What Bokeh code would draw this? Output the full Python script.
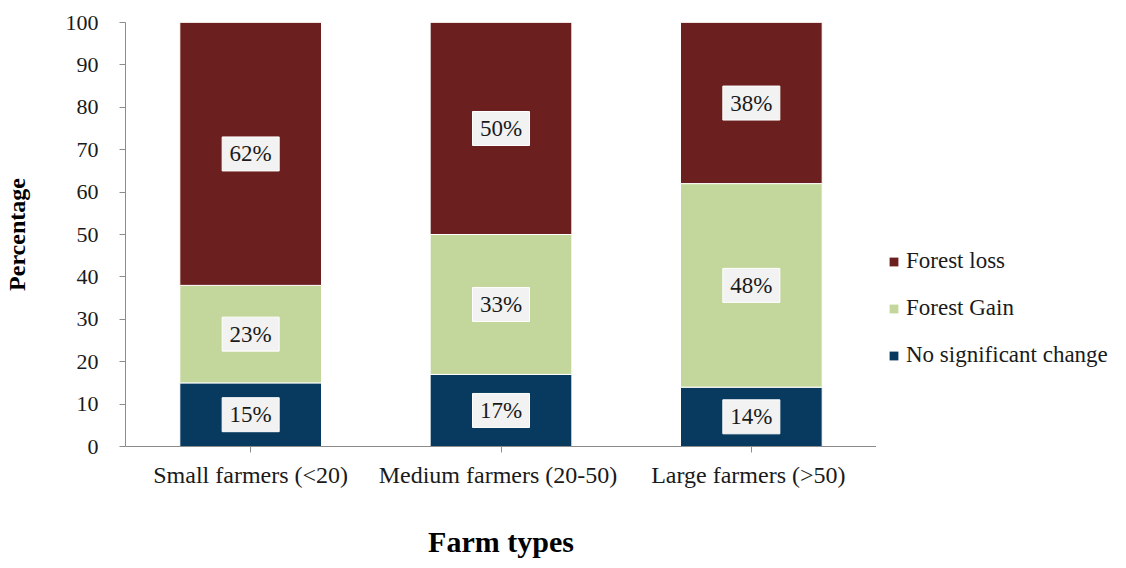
from bokeh.plotting import figure
from bokeh.models import ColumnDataSource, Legend, LegendItem, FactorRange, Range1d, FixedTicker
from bokeh.core.properties import value
from bokeh.layouts import row
from bokeh.embed import file_html
from bokeh.resources import INLINE

categories = ["Small farmers (<20)", "Medium farmers  (20-50)", "Large farmers  (>50)"]
no_change = [15, 17, 14]
forest_gain = [23, 33, 48]
forest_loss = [62, 50, 38]
series = ["No significant change", "Forest Gain", "Forest loss"]
colors = ["#073a5e", "#c3d69b", "#6b1f1f"]
y_ticks = list(range(0, 101, 10))

FONT = "Liberation Serif"
AXIS_COLOR = "#8c8c8c"
H = 560

data = {"cat": categories, series[0]: no_change, series[1]: forest_gain, series[2]: forest_loss}
src = ColumnDataSource(data)

p = figure(x_range=FactorRange(factors=categories, range_padding=0),
           y_range=Range1d(0, 100),
           width=876, height=H, output_backend="svg", toolbar_location=None,
           min_border_left=123, min_border_right=0, min_border_top=22, min_border_bottom=111)

renderers = p.vbar_stack(series, x="cat", width=0.566, color=colors, source=src,
                         line_color="white", line_width=1)

# labels
lab_x, lab_y, lab_t = [], [], []
for i, c in enumerate(categories):
    base = 0
    for vals in (no_change, forest_gain, forest_loss):
        v = vals[i]
        lab_x.append(c)
        lab_y.append(base + v / 2)
        lab_t.append(f"{v}%")
        base += v
lsrc = ColumnDataSource(dict(x=lab_x, y=lab_y, t=lab_t))
p.rect(x="x", y="y", width=57, height=34, width_units="screen", height_units="screen",
       fill_color="#f2f2f2", line_color="white", line_width=1, source=lsrc)
p.text(x="x", y="y", text="t", text_align="center", text_baseline="middle",
       text_font=value(FONT), text_font_size="23px", text_color="#1a1a1a", source=lsrc)

# axes
p.yaxis.ticker = FixedTicker(ticks=y_ticks)
for ax in (p.xaxis, p.yaxis):
    ax.axis_line_color = AXIS_COLOR
    ax.major_tick_line_color = AXIS_COLOR
    ax.minor_tick_line_color = None
    ax.major_tick_in = 0
    ax.major_tick_out = 6
    ax.major_label_text_font = FONT
    ax.major_label_text_color = "#1a1a1a"
    ax.axis_label_text_font = FONT
    ax.axis_label_text_font_style = "bold"
    ax.axis_label_text_color = "black"
p.yaxis.major_label_text_font_size = "22px"
p.xaxis.major_label_text_font_size = "24px"
p.yaxis.major_label_standoff = 21
p.xaxis.major_label_standoff = 9
p.yaxis.axis_label = "Percentage"
p.yaxis.axis_label_text_font_size = "24px"
p.yaxis.axis_label_standoff = 33
p.xaxis.axis_label = "Farm types"
p.xaxis.axis_label_text_font_size = "30px"
p.xaxis.axis_label_standoff = 34

p.xgrid.grid_line_color = None
p.ygrid.grid_line_color = None
p.outline_line_color = None

# legend panel (zero-size placeholder glyphs only carry the legend swatches)
p2 = figure(width=234, height=H, output_backend="svg", toolbar_location=None,
            x_range=Range1d(0, 1), y_range=Range1d(0, 1),
            x_axis_location=None, y_axis_location=None,
            min_border=0, outline_line_color=None)
p2.xgrid.grid_line_color = None
p2.ygrid.grid_line_color = None
dummy = [p2.vbar(x=[0], top=[0], width=0, fill_color=colors[k], line_color=None)
         for k in range(3)]
items = [LegendItem(label=series[k], renderers=[dummy[k]]) for k in (2, 1, 0)]
legend = Legend(items=items, location=(12, 78), padding=0, margin=0,
                border_line_color=None, background_fill_alpha=0,
                glyph_width=11, glyph_height=11, label_height=20, spacing=21,
                label_standoff=7, label_text_font=FONT, label_text_font_size="23px",
                label_text_color="#1a1a1a")
p2.add_layout(legend, "center")

open("out.html", "w").write(file_html(row(p, p2), INLINE))
